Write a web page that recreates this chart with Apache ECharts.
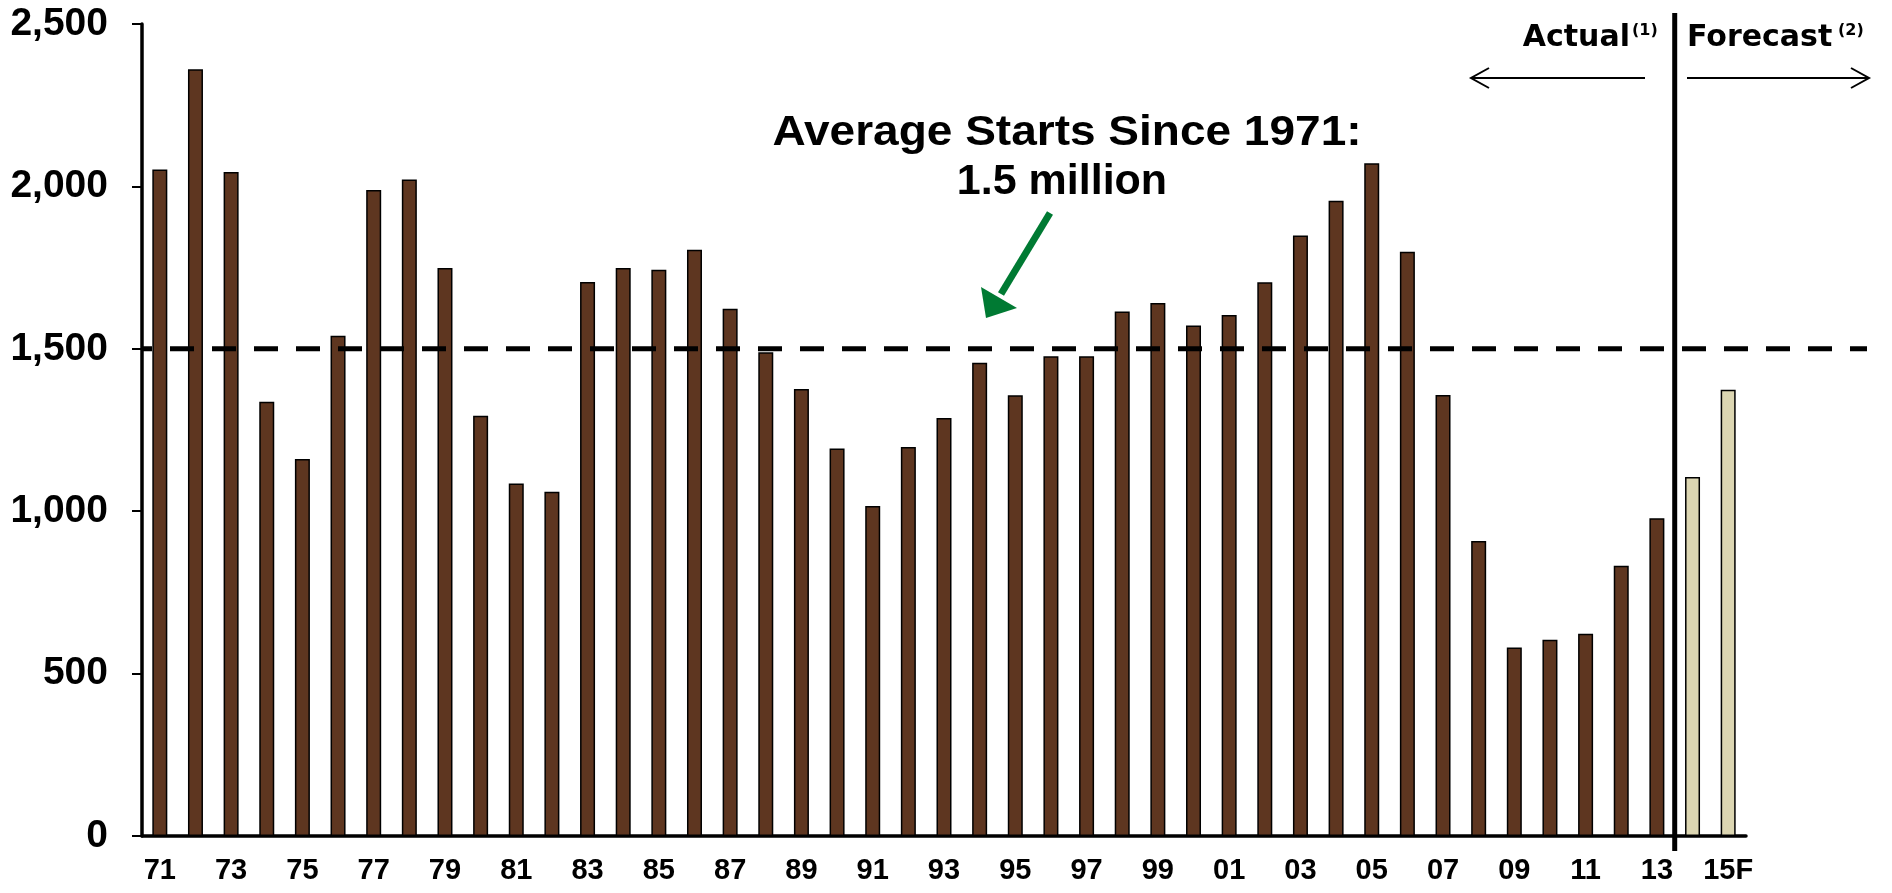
<!DOCTYPE html>
<html>
<head>
<meta charset="UTF-8"/>
<title>Housing Starts</title>
<script src="https://cdn.jsdelivr.net/npm/echarts@6/dist/echarts.min.js"></script>
<style>
html, body { margin: 0; padding: 0; background: #fff; }
#chart { width: 1892px; height: 893px; }
</style>
</head>
<body>
<div id="chart"></div>
<script>
// years 1971..2015 as two-digit labels
var years = ['71','72','73','74','75','76','77','78','79','80','81','82','83','84','85','86','87','88','89','90',
  '91','92','93','94','95','96','97','98','99','00','01','02','03','04','05','06','07','08','09','10','11','12','13','14','15F'];
// starts in thousands
var actual = [2052, 2361, 2044, 1337, 1161, 1540, 1989, 2021, 1749, 1294, 1085, 1060, 1706, 1749, 1743, 1805,
  1623, 1489, 1376, 1193, 1016, 1198, 1287, 1457, 1357, 1477, 1477, 1615, 1641, 1572, 1604, 1705, 1849, 1956,
  2071, 1799, 1358, 908, 580, 604, 623, 832, 978];
var forecast = [1105, 1374];
var avgStarts = 1500;
var yTicks = [0, 500, 1000, 1500, 2000, 2500];

var actualData = years.map(function (y, i) { return i < actual.length ? actual[i] : '-'; });
var forecastData = years.map(function (y, i) { return i < actual.length ? '-' : forecast[i - actual.length]; });

var myChart = echarts.init(document.getElementById('chart'));
var barBorder = { borderColor: '#000', borderWidth: 1.5 };
var arial = "'Liberation Sans', Arial, sans-serif";
var wide = "'DejaVu Sans', sans-serif";

var option = {
  animation: false,
  grid: { left: 142, right: 146, top: 24, bottom: 57, containLabel: false },
  xAxis: {
    type: 'category',
    data: years,
    axisLine: { lineStyle: { color: '#000', width: 3.5 } },
    axisTick: { interval: 0, length: 9, lineStyle: { color: '#000', width: 2 } },
    axisLabel: {
      interval: 1,
      margin: 20,
      color: '#000',
      fontFamily: arial,
      fontWeight: 'bold',
      fontSize: 29
    }
  },
  yAxis: {
    type: 'value',
    min: yTicks[0],
    max: yTicks[yTicks.length - 1],
    interval: 500,
    splitLine: { show: false },
    axisLine: { show: true, lineStyle: { color: '#000', width: 3.5 } },
    axisTick: { show: true, length: 10, lineStyle: { color: '#000', width: 2 } },
    axisLabel: {
      margin: 34,
      color: '#000',
      fontFamily: arial,
      fontWeight: 'bold',
      fontSize: 39,
      formatter: function (v) { return v.toLocaleString('en-US'); }
    }
  },
  series: [
    {
      name: 'Actual',
      type: 'bar',
      barWidth: 15,
      barGap: '-100%',
      data: actualData,
      itemStyle: Object.assign({ color: '#5E3620' }, barBorder)
    },
    {
      name: 'Forecast',
      type: 'bar',
      barWidth: 15,
      data: forecastData,
      itemStyle: Object.assign({ color: '#DCD6B2' }, barBorder)
    }
  ]
};
myChart.setOption(option);

// annotations placed from the axes
var avgY = myChart.convertToPixel({ yAxisIndex: 0 }, avgStarts);
var x0 = myChart.convertToPixel({ xAxisIndex: 0 }, 0);
var bandW = myChart.convertToPixel({ xAxisIndex: 0 }, 1) - x0;
var axisLeft = x0 - bandW / 2;
var splitX = (myChart.convertToPixel({ xAxisIndex: 0 }, actual.length - 1) +
              myChart.convertToPixel({ xAxisIndex: 0 }, actual.length)) / 2;

myChart.setOption({
  graphic: [
    { type: 'line', z: 100, shape: { x1: axisLeft, y1: avgY, x2: 1867, y2: avgY },
      style: { stroke: '#000', lineWidth: 5, lineDash: [24, 18], lineDashOffset: 14 } },
    { type: 'line', z: 100, shape: { x1: splitX, y1: 13, x2: splitX, y2: 851 },
      style: { stroke: '#000', lineWidth: 5 } },
    { type: 'text', z: 100, x: 1067, y: 133, scaleX: 1.07,
      style: { text: 'Average Starts Since 1971:', font: 'bold 43px ' + arial, fill: '#000', align: 'center', verticalAlign: 'middle' } },
    { type: 'text', z: 100, x: 1062, y: 182,
      style: { text: '1.5 million', font: 'bold 43px ' + arial, fill: '#000', align: 'center', verticalAlign: 'middle' } },
    // green pointer
    { type: 'line', z: 100, shape: { x1: 1050, y1: 213, x2: 1001, y2: 294 },
      style: { stroke: '#007A33', lineWidth: 7 } },
    { type: 'polygon', z: 100, shape: { points: [[986, 318], [981, 287], [1017, 308]] },
      style: { fill: '#007A33' } },
    // actual / forecast labels
    { type: 'text', z: 100, x: 1630, y: 38,
      style: { text: 'Actual', font: 'bold 30px ' + wide, fill: '#000', align: 'right', verticalAlign: 'middle' } },
    { type: 'text', z: 100, x: 1632, y: 31,
      style: { text: '(1)', font: 'bold 16px ' + wide, fill: '#000', align: 'left', verticalAlign: 'middle' } },
    { type: 'text', z: 100, x: 1687, y: 38,
      style: { text: 'Forecast', font: 'bold 30px ' + wide, fill: '#000', align: 'left', verticalAlign: 'middle' } },
    { type: 'text', z: 100, x: 1838, y: 31,
      style: { text: '(2)', font: 'bold 16px ' + wide, fill: '#000', align: 'left', verticalAlign: 'middle' } },
    { type: 'line', z: 100, shape: { x1: 1471, y1: 78, x2: 1645, y2: 78 }, style: { stroke: '#000', lineWidth: 2 } },
    { type: 'polyline', z: 100, shape: { points: [[1489, 68], [1471, 78], [1489, 88]] }, style: { stroke: '#000', lineWidth: 2, fill: null } },
    { type: 'line', z: 100, shape: { x1: 1687, y1: 78, x2: 1869, y2: 78 }, style: { stroke: '#000', lineWidth: 2 } },
    { type: 'polyline', z: 100, shape: { points: [[1851, 68], [1869, 78], [1851, 88]] }, style: { stroke: '#000', lineWidth: 2, fill: null } }
  ]
});
</script>
</body>
</html>
